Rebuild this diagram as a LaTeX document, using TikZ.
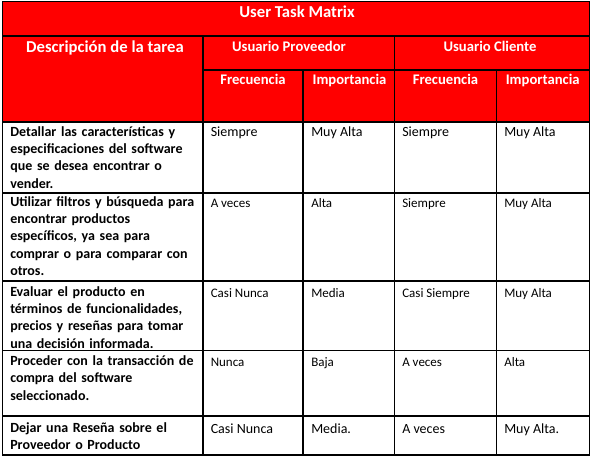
\documentclass[tikz,border=0pt]{standalone}
\usepackage{fontspec}
\setmainfont{Carlito}
\usepackage{xcolor}
\usepackage{tikz}
\definecolor{head}{HTML}{FF0000}
\definecolor{rule}{HTML}{000000}
\definecolor{ink}{HTML}{000000}
\tikzset{
  grid/.style={draw=rule, line width=0.8pt},
  headfill/.style={fill=head},
  hd/.style={text=white, font=\bfseries\fontsize{11}{13}\selectfont, inner sep=0pt, anchor=base},
  hdbig/.style={text=white, font=\bfseries\fontsize{12.5}{14}\selectfont, inner sep=0pt, anchor=base},
  task/.style={text=ink, font=\bfseries\fontsize{10.5}{13}\selectfont, inner sep=0pt,
    text width=190pt, align=left, anchor=base west},
  val/.style={text=ink, font=\fontsize{10.5}{13}\selectfont, inner sep=0pt, anchor=base west},
  vals/.style={text=ink, font=\fontsize{9.75}{12}\selectfont, inner sep=0pt, anchor=base west}
}
\begin{document}
\begin{tikzpicture}[x=0.75pt,y=-0.75pt]
  \useasboundingbox (0,0) rectangle (591,458);

  % table corners
  \coordinate (NW) at (2.5,1.5);
  \coordinate (SE) at (589.5,455);

  % red header band
  \fill[headfill] (NW) rectangle (589.5,122);

  % rules
  \draw[grid] (NW) rectangle (SE);
  \draw[grid] (2.5,36) -- (589.5,36);
  \draw[grid] (203,70) -- (589.5,70);
  \draw[grid] (2.5,122) -- (589.5,122);
  \draw[grid] (2.5,193) -- (589.5,193);
  \draw[grid] (2.5,281) -- (589.5,281);
  \draw[grid] (2.5,350.5) -- (589.5,350.5);
  \draw[grid] (2.5,416) -- (589.5,416);
  \draw[grid] (203,36) -- (203,455);
  \draw[grid] (303,70) -- (303,455);
  \draw[grid] (394.5,36) -- (394.5,455);
  \draw[grid] (496.5,70) -- (496.5,455);

  % header texts
  \node[hdbig] (title) at (297,17.5) {User Task Matrix};
  \node[hdbig] (desc) at (105,52) {Descripción de la tarea};
  \node[hd] (prov) at (289,51) {Usuario Proveedor};
  \node[hd] (cli) at (490,51) {Usuario Cliente};
  \node[hd] (provf) at (253,84) {Frecuencia};
  \node[hd] (provi) at (349.5,84) {Importancia};
  \node[hd] (clif) at (445.5,84) {Frecuencia};
  \node[hd] (clii) at (542.7,84) {Importancia};

  % tasks
  \node[task] (t1) at (10,136) {Detallar las características y\\especificaciones del software\\que se desea encontrar o\\vender.};
  \node[task] (t2) at (10,206) {Utilizar filtros y búsqueda para\\encontrar productos\\específicos, ya sea para\\comprar o para comparar con\\otros.};
  \node[task] (t3) at (10,296) {Evaluar el producto en\\términos de funcionalidades,\\precios y reseñas para tomar\\una decisión informada.};
  \node[task] (t4) at (10,365.5) {Proceder con la transacción de\\compra del software\\seleccionado.};
  \node[task] (t5) at (10,432.5) {Dejar una Reseña sobre el\\Proveedor o Producto};

  % row 1
  \node[val] (p1f) at (210.5,136.5) {Siempre};
  \node[val] (p1i) at (311,136.5) {Muy Alta};
  \node[val] (c1f) at (402,136.5) {Siempre};
  \node[val] (c1i) at (504,136.5) {Muy Alta};
  % row 2
  \node[vals] (p2f) at (210.5,207.5) {A veces};
  \node[vals] (p2i) at (311,207.5) {Alta};
  \node[vals] (c2f) at (402,207.5) {Siempre};
  \node[vals] (c2i) at (504,207.5) {Muy Alta};
  % row 3
  \node[vals] (p3f) at (210.5,297) {Casi Nunca};
  \node[vals] (p3i) at (311,297) {Media};
  \node[vals] (c3f) at (402,297) {Casi Siempre};
  \node[vals] (c3i) at (504,297) {Muy Alta};
  % row 4
  \node[vals] (p4f) at (210.5,366) {Nunca};
  \node[vals] (p4i) at (311,366) {Baja};
  \node[vals] (c4f) at (402,366) {A veces};
  \node[vals] (c4i) at (504,366) {Alta};
  % row 5
  \node[val] (p5f) at (210.5,433) {Casi Nunca};
  \node[val] (p5i) at (311,433) {Media.};
  \node[val] (c5f) at (402,433) {A veces};
  \node[val] (c5i) at (504,433) {Muy Alta.};
\end{tikzpicture}
\end{document}
